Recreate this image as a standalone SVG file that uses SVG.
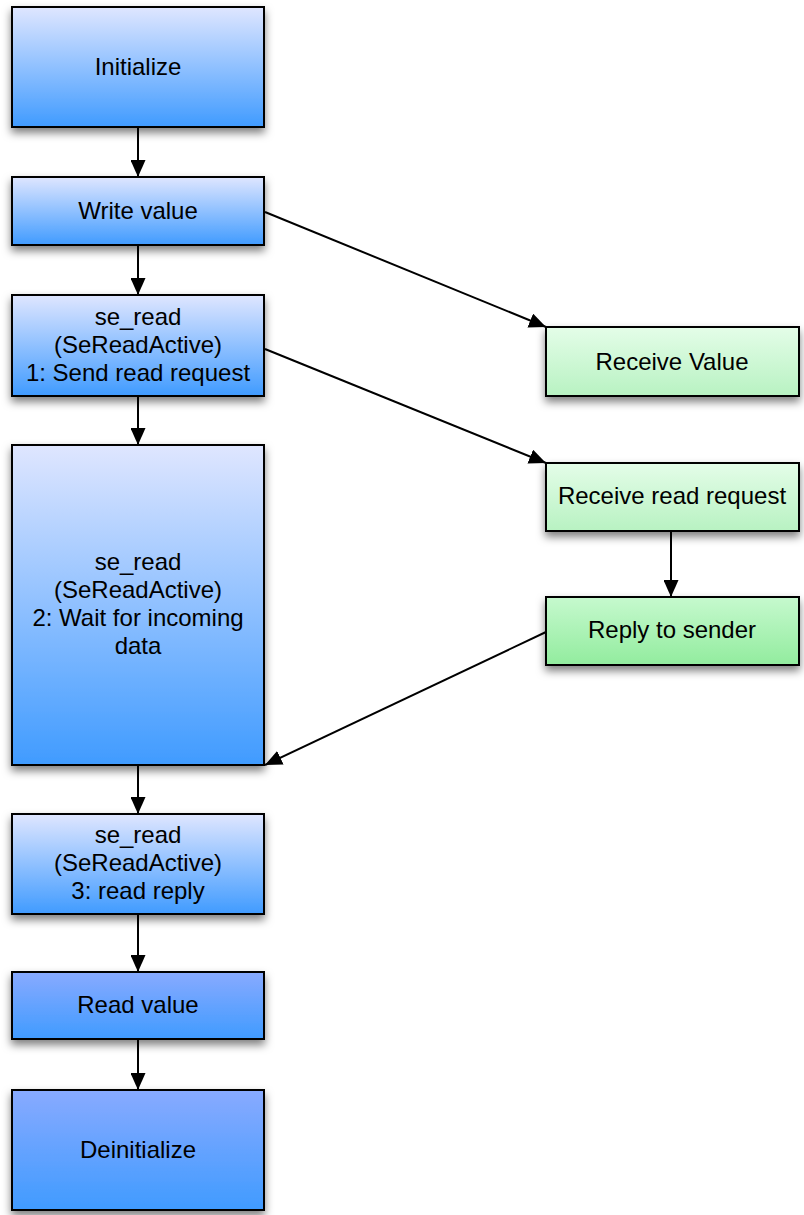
<svg xmlns="http://www.w3.org/2000/svg" width="804" height="1215" viewBox="0 0 804 1215">
<defs>
<linearGradient id="gBlue" x1="0" y1="0" x2="0" y2="1"><stop offset="0" stop-color="#dfe6ff"/><stop offset="1" stop-color="#409bff"/></linearGradient>
<linearGradient id="gBlue2" x1="0" y1="0" x2="0" y2="1"><stop offset="0" stop-color="#88aaff"/><stop offset="1" stop-color="#409bff"/></linearGradient>
<linearGradient id="gGreen" x1="0" y1="0" x2="0" y2="1"><stop offset="0" stop-color="#e4fde8"/><stop offset="1" stop-color="#b8f2c2"/></linearGradient>
<linearGradient id="gGreen2" x1="0" y1="0" x2="0" y2="1"><stop offset="0" stop-color="#c6f9ce"/><stop offset="1" stop-color="#92ec9e"/></linearGradient>
<filter id="sh" x="-10%" y="-10%" width="125%" height="135%"><feDropShadow dx="0" dy="5" stdDeviation="4" flood-color="#000" flood-opacity="0.5"/></filter>
<marker id="ah" markerWidth="17" markerHeight="15" refX="17" refY="7.5" orient="auto" markerUnits="userSpaceOnUse"><path d="M0,0 L17,7.5 L0,15 Z" fill="#000"/></marker>
<style>
.box{stroke:#000;stroke-width:2;filter:url(#sh)}
.t{font-family:"Liberation Sans",Arial,sans-serif;font-size:24px;fill:#000;text-anchor:middle}
.c{stroke:#000;stroke-width:2;fill:none;marker-end:url(#ah)}
</style>
</defs>
<g id="connectors">
<line class="c" x1="138" y1="127" x2="138" y2="177"/>
<line class="c" x1="138" y1="245" x2="138" y2="295"/>
<line class="c" x1="138" y1="396" x2="138" y2="445"/>
<line class="c" x1="138" y1="765" x2="138" y2="814"/>
<line class="c" x1="138" y1="914" x2="138" y2="972"/>
<line class="c" x1="138" y1="1039" x2="138" y2="1090"/>
<line class="c" x1="671" y1="531" x2="671" y2="597"/>
<line class="c" x1="265" y1="212" x2="546" y2="327"/>
<line class="c" x1="265" y1="349" x2="546" y2="463"/>
<line class="c" x1="546" y1="632" x2="265" y2="765"/>
</g>
<g id="initialize"><rect class="box" x="12" y="7" width="252" height="120" fill="url(#gBlue)"/><text class="t" x="138" y="75">Initialize</text></g>
<g id="write-value"><rect class="box" x="12" y="177" width="252" height="68" fill="url(#gBlue)"/><text class="t" x="138" y="219">Write value</text></g>
<g id="se-read-1"><rect class="box" x="12" y="295" width="252" height="101" fill="url(#gBlue)"/><text class="t" x="138" y="325">se_read</text><text class="t" x="138" y="353">(SeReadActive)</text><text class="t" x="138" y="381">1: Send read request</text></g>
<g id="se-read-2"><rect class="box" x="12" y="445" width="252" height="320" fill="url(#gBlue)"/><text class="t" x="138" y="570">se_read</text><text class="t" x="138" y="598">(SeReadActive)</text><text class="t" x="138" y="626">2: Wait for incoming</text><text class="t" x="138" y="654">data</text></g>
<g id="se-read-3"><rect class="box" x="12" y="814" width="252" height="100" fill="url(#gBlue)"/><text class="t" x="138" y="843">se_read</text><text class="t" x="138" y="871">(SeReadActive)</text><text class="t" x="138" y="899">3: read reply</text></g>
<g id="read-value"><rect class="box" x="12" y="972" width="252" height="67" fill="url(#gBlue2)"/><text class="t" x="138" y="1013">Read value</text></g>
<g id="deinitialize"><rect class="box" x="12" y="1090" width="252" height="120" fill="url(#gBlue2)"/><text class="t" x="138" y="1158">Deinitialize</text></g>
<g id="receive-value"><rect class="box" x="546" y="327" width="253" height="69" fill="url(#gGreen)"/><text class="t" x="672" y="370">Receive Value</text></g>
<g id="receive-read-request"><rect class="box" x="546" y="463" width="253" height="68" fill="url(#gGreen)"/><text class="t" x="672" y="504">Receive read request</text></g>
<g id="reply-to-sender"><rect class="box" x="546" y="597" width="253" height="68" fill="url(#gGreen2)"/><text class="t" x="672" y="638">Reply to sender</text></g>
</svg>
